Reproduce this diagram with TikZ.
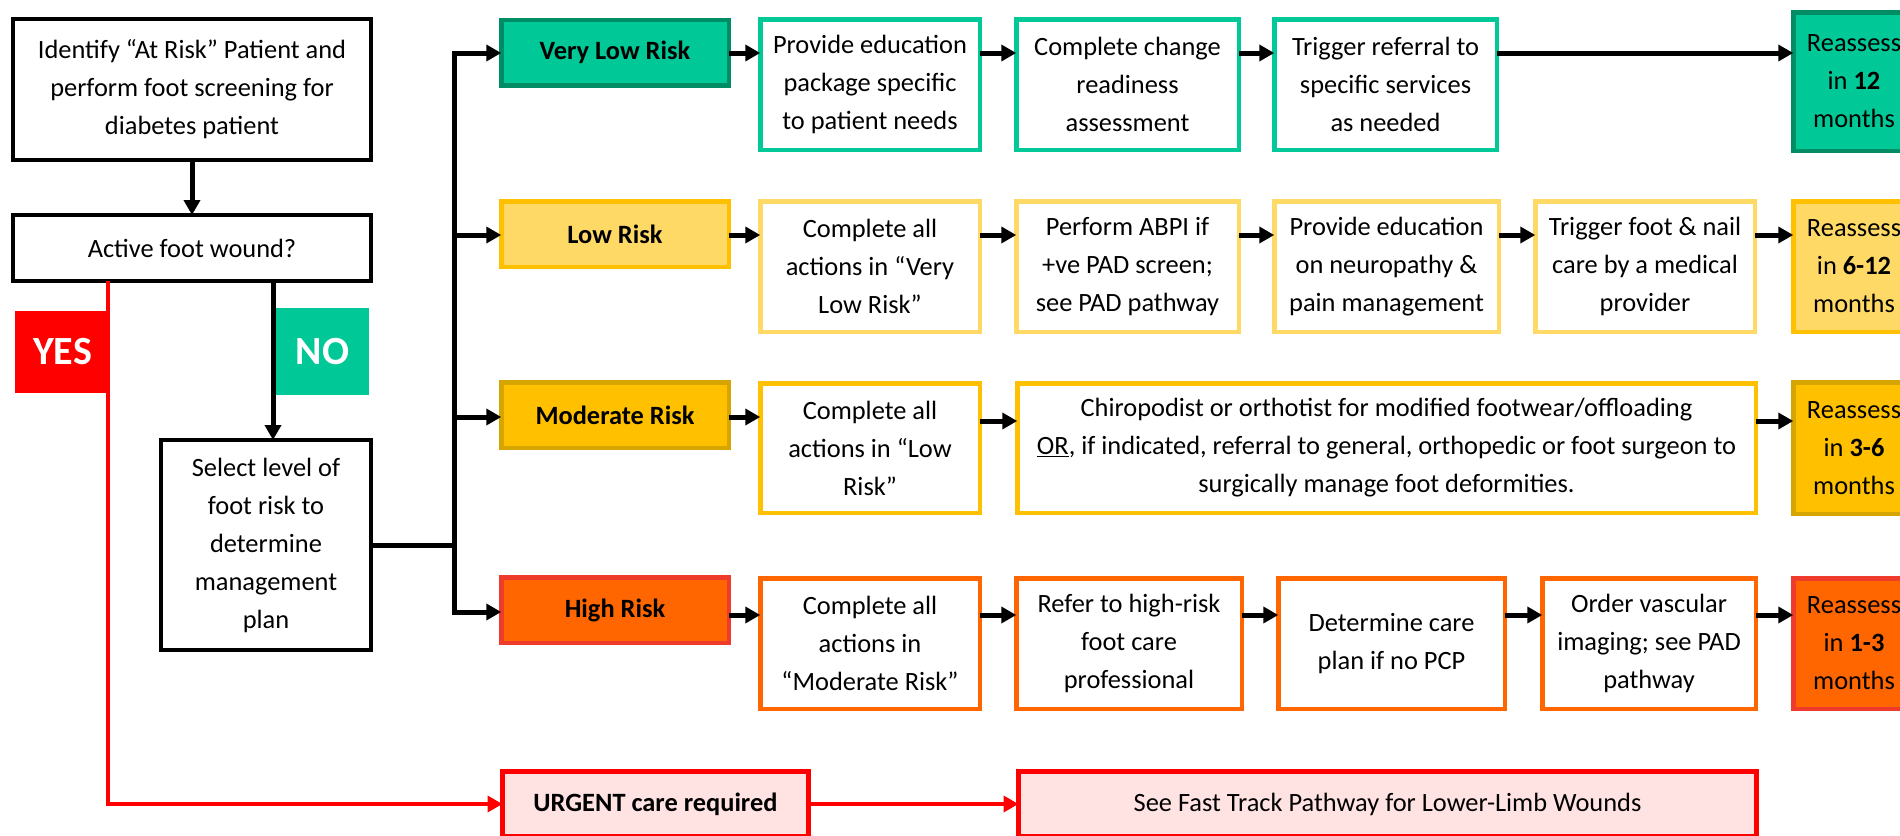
\documentclass[tikz,border=0pt]{standalone}
\usepackage{fontspec}
\setmainfont{Carlito}
\usepackage{tikz}
\usetikzlibrary{arrows.meta}

\definecolor{vlgreen}{HTML}{00C896}
\definecolor{vldark}{HTML}{008C64}
\definecolor{loyellow}{HTML}{FFD966}
\definecolor{mogold}{HTML}{FFC000}
\definecolor{modark}{HTML}{D6A500}
\definecolor{hiorange}{HTML}{FF6600}
\definecolor{hired}{HTML}{EE3B2B}
\definecolor{urgpink}{HTML}{FFE3E3}
\definecolor{urgred}{HTML}{FF0000}

\begin{document}
\begin{tikzpicture}[x=1pt, y=-1pt,
        >={Triangle[length=15pt,width=16pt]},
        every node/.style={font=\fontsize{26.4}{38}\selectfont, align=center, inner sep=0pt, outer sep=0pt},
        sz/.style 2 args={minimum width=#1, minimum height=#2},
        blackbox/.style={draw=black, line width=4.2pt},
        riskbox/.style={line width=4.5pt, sz={227.5}{65.5}, font=\bfseries\fontsize{26.4}{38}\selectfont},
        infobox/.style={draw, fill=white, line width=4.5pt},
        flag/.style={text=white, font=\bfseries\fontsize{40}{40}\selectfont},
        line/.style={line width=5pt, line cap=rect},
        arr/.style={line width=5pt, ->},
        redarr/.style={line width=4.5pt, draw=urgred, -{Triangle[length=15pt,width=16pt,fill=urgred]}}
    ]
        \useasboundingbox (0,0) rectangle (1900,835);
        \clip (0,0) rectangle (1900,835);

        % screening and decision
        \node[blackbox, sz={358}{141}] (id) at (192,89.5) {Identify “At Risk” Patient and\\perform foot screening for\\diabetes patient};
        \node[blackbox, sz={358}{66}] (wound) at (192,248) {Active foot wound?};
        \node[blackbox, sz={210}{210}] (sel) at (266,545) {Select level of\\foot risk to\\determine\\management\\plan};

        % urgent
        \node[draw=urgred, fill=urgpink, line width=5pt, sz={306}{65}, font=\bfseries\fontsize{26.4}{38}\selectfont] (urg) at (655.5,804) {URGENT care required};
        \node[draw=urgred, fill=urgpink, line width=5pt, sz={738}{65}] (fast) at (1387.5,804) {See Fast Track Pathway for Lower-Limb Wounds};

        \coordinate (yesx) at (108,0);
        \coordinate (nox) at (273,0);
        \draw[redarr] (wound.south -| yesx) |- (urg.west);
        \draw[redarr] (urg.east) -- (fast.west);
        \node[fill=urgred, flag, sz={95}{82}] (yes) at (62.5,352) {YES};
        \node[fill=vlgreen, flag, sz={93}{87}] (no) at (322.5,351.5) {NO};
        \draw[arr] (id.south) -- (wound.north);
        \draw[arr] (wound.south -| nox) -- (sel.north -| nox);

        % risk levels
        \node[riskbox, draw=vldark, fill=vlgreen] (vl) at (615,52.5) {Very Low Risk};
        \node[riskbox, draw=mogold, fill=loyellow] (lo) at (615,234) {Low Risk};
        \node[riskbox, draw=modark, fill=mogold] (mo) at (615,415) {Moderate Risk};
        \node[riskbox, draw=hired, fill=hiorange] (hi) at (615,610) {High Risk};

        \coordinate (rvl) at (0,53);
        \coordinate (rlo) at (0,235);
        \coordinate (rmo) at (0,417);
        \coordinate (rhi) at (0,612);

        \coordinate (tr) at (454,0);
        \draw[line] (sel.east) -- (sel.east -| tr);
        \draw[line] (tr |- rvl) -- (tr |- rhi);
        \foreach \r/\y in {vl/rvl,lo/rlo,mo/rmo,hi/rhi}
            \draw[arr] (tr |- \y) -- (\r.west |- \y);

        % very low risk
        \node[infobox, draw=vlgreen, sz={219.5}{130.5}] (vl1) at (870,84.5) {Provide education\\package specific\\to patient needs};
        \node[infobox, draw=vlgreen, sz={222.5}{130.5}] (vl2) at (1127.5,84.5) {Complete change\\readiness\\assessment};
        \node[infobox, draw=vlgreen, sz={222.5}{130.5}] (vl3) at (1385.5,84.5) {Trigger referral to\\specific services\\as needed};
        \node[infobox, draw=vldark, fill=vlgreen, sz={121.5}{138.5}] (vlr) at (1854,81.5) {Reassess\\in \textbf{12}\\months};
        \foreach \a/\b in {vl/vl1,vl1/vl2,vl2/vl3,vl3/vlr}
            \draw[arr] (\a.east |- rvl) -- (\b.west |- rvl);

        % low risk
        \node[infobox, draw=loyellow, sz={219.5}{130.5}] (lo1) at (870,266.5) {Complete all\\actions in “Very\\Low Risk”};
        \node[infobox, draw=loyellow, sz={222.5}{130.5}] (lo2) at (1127.5,266.5) {Perform ABPI if\\+ve PAD screen;\\see PAD pathway};
        \node[infobox, draw=loyellow, sz={224.5}{130.5}] (lo3) at (1386.5,266.5) {Provide education\\on neuropathy \&\\pain management};
        \node[infobox, draw=loyellow, sz={219.5}{130.5}] (lo4) at (1645,266.5) {Trigger foot \& nail\\care by a medical\\provider};
        \node[infobox, draw=mogold, fill=loyellow, sz={121.5}{130.5}] (lor) at (1854,266.5) {Reassess\\in \textbf{6-12}\\months};
        \foreach \a/\b in {lo/lo1,lo1/lo2,lo2/lo3,lo3/lo4,lo4/lor}
            \draw[arr] (\a.east |- rlo) -- (\b.west |- rlo);

        % moderate risk
        \node[infobox, draw=mogold, sz={219.5}{129.5}] (mo1) at (870,448) {Complete all\\actions in “Low\\Risk”};
        \node[infobox, draw=mogold, sz={738.5}{129.5}] (mo2) at (1386.5,448) {Chiropodist or orthotist for modified footwear/offloading\\\underline{OR}, if indicated, referral to general, orthopedic or foot surgeon to\\surgically manage foot deformities.};
        \node[infobox, draw=modark, fill=mogold, sz={121.5}{131.5}] (mor) at (1854,448) {Reassess\\in \textbf{3-6}\\months};
        \draw[arr] (mo.east |- rmo) -- (mo1.west |- rmo);
        \draw[arr] (mo1.east |- 0,421) -- (mo2.west |- 0,421);
        \draw[arr] (mo2.east |- 0,421) -- (mor.west |- 0,421);

        % high risk
        \node[infobox, draw=hiorange, sz={219.5}{130.5}] (hi1) at (870,643.5) {Complete all\\actions in\\“Moderate Risk”};
        \node[infobox, draw=hiorange, sz={225.5}{130.5}] (hi2) at (1129,643.5) {Refer to high-risk\\foot care\\professional};
        \node[infobox, draw=hiorange, sz={226.5}{130.5}] (hi3) at (1391.5,643.5) {Determine care\\plan if no PCP};
        \node[infobox, draw=hiorange, sz={213.5}{130.5}] (hi4) at (1649,643.5) {Order vascular\\imaging; see PAD\\pathway};
        \node[infobox, draw=hired, fill=hiorange, sz={121.5}{130.5}] (hir) at (1854,643.5) {Reassess\\in \textbf{1-3}\\months};
        \foreach \a/\b in {hi/hi1,hi1/hi2,hi2/hi3,hi3/hi4,hi4/hir}
            \draw[arr] (\a.east |- 0,615) -- (\b.west |- 0,615);
    \end{tikzpicture}
\end{document}
